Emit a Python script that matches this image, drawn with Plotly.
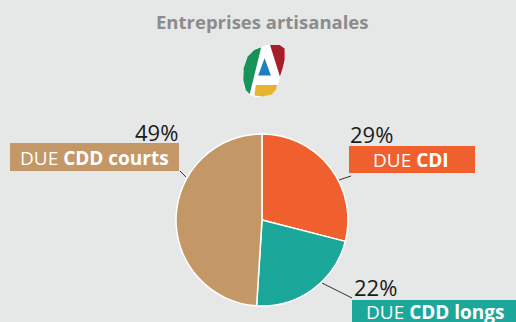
import plotly.graph_objects as go

# Répartition des DUE dans les entreprises artisanales
categories = ["DUE CDI", "DUE CDD longs", "DUE CDD courts"]
labels_html = ["DUE <b>CDI</b>", "DUE <b>CDD longs</b>", "DUE <b>CDD courts</b>"]
values = [29, 22, 49]
colors = ["#f05f2e", "#1ba89b", "#c49767"]

W, H = 516, 322
BG = "#e5e8e6"

fig = go.Figure()

# Camembert (centre ~ (262, 220) px, rayon ~ 86 px)
cx, cy, r = 262, 220, 86
fig.add_trace(go.Pie(
    labels=categories,
    values=values,
    sort=False,
    direction="clockwise",
    rotation=0,
    marker=dict(colors=colors, line=dict(color="white", width=1.5)),
    textinfo="none",
    hoverinfo="label+percent",
    showlegend=False,
    domain=dict(x=[(cx - r) / W, (cx + r) / W],
                y=[(H - cy - r) / H, (H - cy + r) / H]),
))

# Repère en pixels pour les éléments de décor
fig.add_trace(go.Scatter(x=[0], y=[0], mode="markers", marker=dict(opacity=0),
                         hoverinfo="skip", showlegend=False))

shapes = []
annotations = []

# Logo (légèrement élargi autour de son axe vertical)
LOGO_CX, LOGO_SX = 264, 1.1

def path(pts):
    return "M " + " L ".join(
        f"{LOGO_CX + (x - LOGO_CX) * LOGO_SX:.1f},{y}" for x, y in pts) + " Z"

logo_white = [(266, 45), (278, 45), (283, 49), (283, 60), (280, 72), (276, 87),
              (269, 95), (258, 97.5), (250, 94.5), (246, 86), (245, 72),
              (248, 58), (254, 50)]
logo_green = [(261.5, 47.3), (255, 50), (249, 56.7), (245.5, 68.3), (245.2, 80),
              (247.5, 90), (251, 94.3)]
logo_red = [(269.5, 45), (278.3, 45), (282.7, 48.5), (282.7, 60), (280.5, 70),
            (278.5, 76.5)]
logo_yellow = [(256.5, 85), (276, 85), (275, 89.5), (271, 94.5), (262.7, 96.5),
               (255.3, 95.5)]
logo_blue = [(264.5, 58.3), (258.7, 75.5), (270.3, 75.5)]
for pts, col in [(logo_white, "white"), (logo_green, "#17935a"),
                 (logo_red, "#a51e2a"), (logo_yellow, "#e8b32e"),
                 (logo_blue, "#1c7fc0")]:
    shapes.append(dict(type="path", path=path(pts), xref="x", yref="y",
                       fillcolor=col, line=dict(width=0), layer="above"))

# Étiquettes : boîte (x0, x1, y0, y1), position du texte, pourcentage, trait de rappel
boxes = [
    dict(box=(349, 475, 146, 173), tx=411, anchor="center", px=348, pxa="left",
         py=134, line=((339, 180), (351, 176))),
    dict(box=(352, 530, 300, 325), tx=364, anchor="left", px=352, pxa="left",
         py=287, line=((322, 283), (352, 298))),
    dict(box=(10, 179, 143, 171), tx=94, anchor="center", px=180, pxa="right",
         py=132, line=((180, 171), (186, 177))),
]
for lab, val, col, b in zip(labels_html, values, colors, boxes):
    x0, x1, y0, y1 = b["box"]
    shapes.append(dict(type="rect", xref="x", yref="y", x0=x0, x1=x1, y0=y0, y1=y1,
                       fillcolor=col, line=dict(width=0), layer="above"))
    (lx0, ly0), (lx1, ly1) = b["line"]
    shapes.append(dict(type="line", xref="x", yref="y", x0=lx0, y0=ly0, x1=lx1, y1=ly1,
                       line=dict(color="#333333", width=1), layer="above"))
    annotations.append(dict(x=b["tx"], y=(y0 + min(y1, H)) / 2 + 0.5, xref="x", yref="y",
                            text=lab, showarrow=False, xanchor=b["anchor"],
                            yanchor="middle",
                            font=dict(family="Open Sans", size=19, color="white")))
    annotations.append(dict(x=b["px"], y=b["py"], xref="x", yref="y",
                            text=f"{val}%", showarrow=False, xanchor=b["pxa"],
                            yanchor="middle",
                            font=dict(family="Open Sans", size=22, color="#1a1a1a")))

annotations.append(dict(x=262, y=21, xref="x", yref="y", text="<b>Entreprises artisanales</b>",
                        showarrow=False, xanchor="center", yanchor="middle",
                        font=dict(family="Open Sans", size=18.5, color="#8c8c8c")))

fig.update_layout(
    width=W, height=H,
    margin=dict(l=0, r=0, t=0, b=0),
    paper_bgcolor=BG, plot_bgcolor=BG,
    xaxis=dict(range=[0, W], visible=False, fixedrange=True, domain=[0, 1]),
    yaxis=dict(range=[H, 0], visible=False, fixedrange=True, domain=[0, 1]),
    shapes=shapes,
    annotations=annotations,
)

fig.write_html("out.html")
